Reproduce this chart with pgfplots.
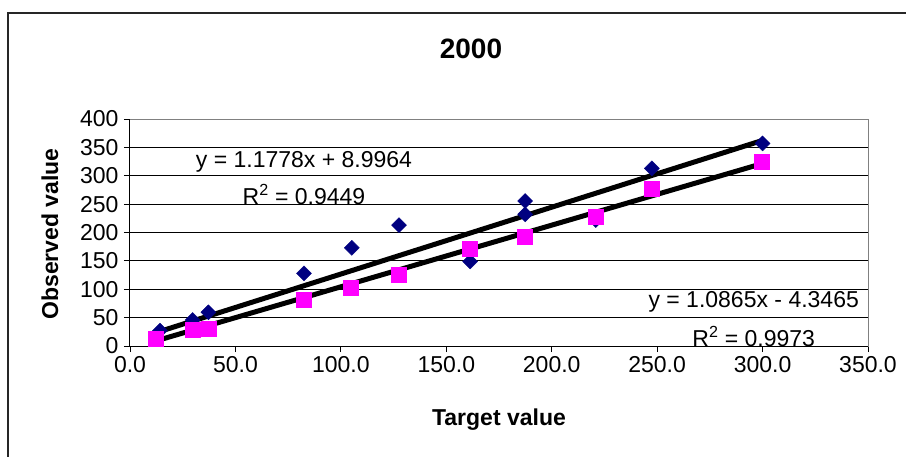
\documentclass[border=0pt]{standalone}
\usepackage{pgfplots}
\pgfplotsset{compat=1.18}
\usepackage{fontspec}
\setmainfont{Liberation Sans}
\definecolor{navy}{HTML}{000080}
\definecolor{magentaX}{HTML}{FF00FF}
\begin{document}
\begin{tikzpicture}[x=1pt,y=1pt]
\useasboundingbox (0,0) rectangle (906,456);
\draw[line width=1.2pt,black!85] (8,-5) -- (8,443) -- (911,443);
\node[font=\fontsize{28}{32}\selectfont\bfseries] at (471,407) {2000};
\node[font=\fontsize{23}{27}\selectfont\bfseries,rotate=90] at (50,222) {Observed value};
\node[font=\fontsize{23}{27}\selectfont\bfseries] at (499,36) {Target value};
\begin{axis}[
  at={(130pt,110pt)}, anchor=south west,
  scale only axis, width=738pt, height=227pt,
  xmin=0, xmax=350, ymin=0, ymax=400,
  xtick={0,50,...,350}, ytick={0,50,...,400},
  xticklabel style={/pgf/number format/.cd,fixed,fixed zerofill,precision=1},
  /pgf/number format/assume math mode=true,
  ticklabel style={font=\fontsize{23}{27}\selectfont},
  tick align=outside, tickpos=left, major tick length=6pt,
  tick style={black,line width=0.8pt},
  axis line style={draw=gray,line width=1pt},
  ymajorgrids, grid style={black,line width=0.8pt},
  xticklabel shift=1pt, yticklabel shift=2pt,
  clip=false,
]
\draw[black,line width=1pt] (rel axis cs:0,1) -- (rel axis cs:0,0) -- (rel axis cs:1,0);
\addplot[only marks, mark=square*, mark size=5.3pt, mark options={rotate=45,draw=navy,fill=navy}] coordinates {
 (14.2,27) (29.7,45.8) (37.2,59.4) (82.5,128) (105.2,173) (127.6,213) (161.3,149)
 (187.4,255.5) (187.4,232) (220.9,222) (247.5,313) (300,357)
};
\addplot[only marks, mark=square*, mark size=7.5pt, mark options={draw=magentaX,fill=magentaX}] coordinates {
 (12,12) (29.7,28) (37.2,31) (82.2,82) (104.7,103) (127.6,125) (161,172)
 (187.4,192.6) (220.9,228) (247.5,278) (299.6,325)
};
\addplot[black, line width=5pt] coordinates {(14.2,25.72) (300,362.34)};
\addplot[black, line width=5pt] coordinates {(12,8.69) (300,321.6)};
\node[font=\fontsize{23}{27}\selectfont] at (axis cs:82.5,324.8) {y = 1.1778x + 8.9964};
\node[font=\fontsize{23}{27}\selectfont] at (axis cs:82.5,267.3) {R\textsuperscript{2} = 0.9449};
\node[font=\fontsize{23}{27}\selectfont] at (axis cs:295.8,78) {y = 1.0865x - 4.3465};
\node[font=\fontsize{23}{27}\selectfont] at (axis cs:295.8,17.6) {R\textsuperscript{2} = 0.9973};
\end{axis}
\end{tikzpicture}
\end{document}
